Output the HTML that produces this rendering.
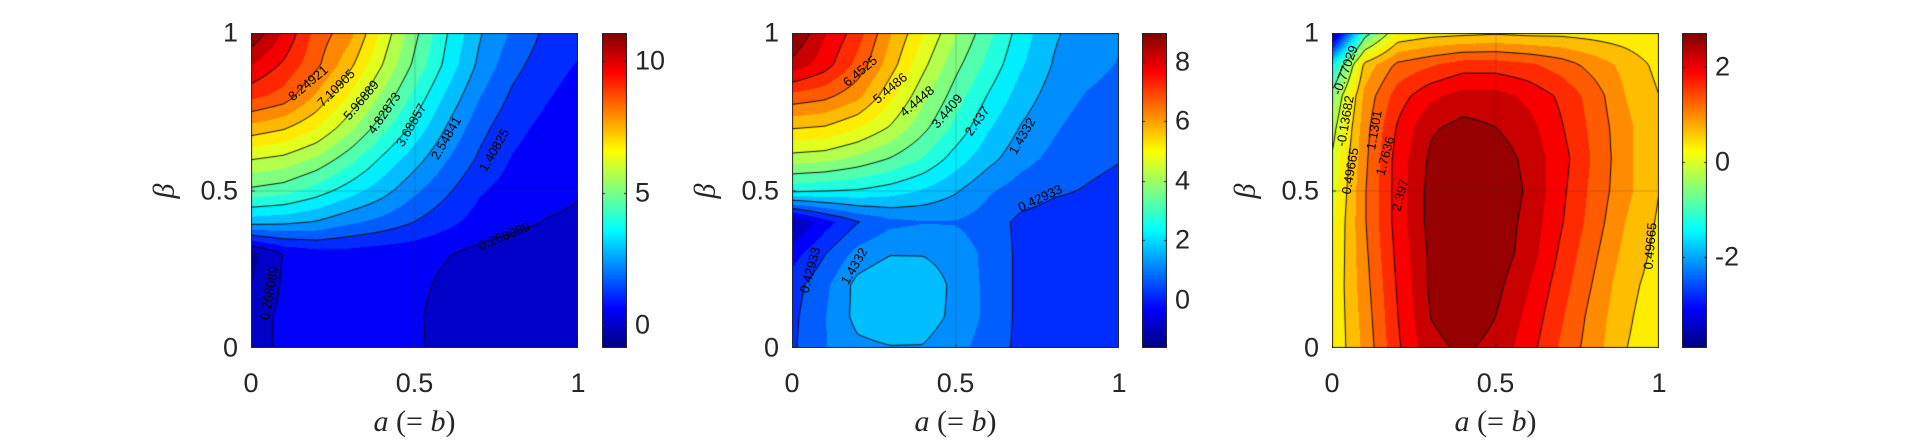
<!DOCTYPE html>
<html><head><meta charset="utf-8"><style>
body{margin:0;background:#fff;width:1924px;height:443px;overflow:hidden;position:relative;font-family:"Liberation Sans",sans-serif;color:#262626}
canvas{position:absolute}
.t{position:absolute;font-size:27px;line-height:1;white-space:nowrap}
.yl{text-align:right;width:60px;transform:translateY(-50%)}
.xl{transform:translateX(-50%)}
.cl{transform:translateY(-50%)}
.lab{position:absolute;font-family:"Liberation Serif",serif;font-style:italic;font-size:30px;white-space:nowrap}
.cont{position:absolute;font-size:13px;color:#000;white-space:nowrap;transform-origin:center center}
</style></head><body>
<div id="root"></div>
<script>
// grid axis values
const aVals=[0,0.1,0.2,0.3,0.4,0.5,0.6,0.7,0.8,0.9,1];
const betaVals=[1,0.9,0.8,0.7,0.6,0.5,0.4,0.3,0.2,0.1,0];
// panel 1 values (rows beta=1..0, cols a=0..1)
const z1=[
[11,9.9,8.6,7.9,6.4,5.0,3.7,2.6,1.9,1.3,1.0],
[10.0,9.3,8.4,7.3,6.0,4.7,3.5,2.4,1.6,1.1,0.8],
[9.0,8.6,7.6,6.5,5.3,4.1,3.0,2.0,1.3,0.9,0.6],
[7.5,7.2,6.6,5.6,4.5,3.5,2.5,1.6,1.0,0.7,0.5],
[6.0,5.8,5.3,4.5,3.6,2.8,2.0,1.3,0.8,0.55,0.4],
[4.7,4.5,4.0,3.4,2.8,2.1,1.5,0.9,0.6,0.4,0.3],
[2.8,2.7,2.5,2.1,1.8,1.4,1.0,0.6,0.4,0.25,0.2],
[-0.5,0.3,0.6,0.6,0.5,0.45,0.3,0.1,0.0,-0.05,-0.1],
[-0.3,0.35,0.6,0.65,0.55,0.4,0.15,-0.1,-0.2,-0.25,-0.25],
[0.0,0.4,0.6,0.6,0.5,0.35,0.05,-0.15,-0.25,-0.25,-0.25],
[0.1,0.35,0.5,0.5,0.45,0.35,0.1,-0.15,-0.25,-0.25,-0.25]];
const z2=[
[9.0,8.0,7.2,6.0,5.0,4.0,3.1,2.2,1.5,1.2,1.0],
[8.3,7.7,6.8,5.7,4.6,3.6,2.8,2.0,1.4,1.1,0.9],
[6.8,6.6,6.1,5.1,4.1,3.2,2.4,1.7,1.2,0.9,0.75],
[5.5,5.4,5.0,4.4,3.6,2.8,2.0,1.4,1.0,0.7,0.6],
[4.2,4.1,3.8,3.4,2.9,2.2,1.6,1.1,0.8,0.55,0.45],
[2.6,2.5,2.4,2.2,1.9,1.5,1.0,0.7,0.5,0.4,0.3],
[-1.2,-0.3,0.4,0.8,0.9,0.9,0.7,0.3,0.2,0.2,0.2],
[-0.3,0.4,1.1,1.4,1.4,1.2,0.8,0.3,0.2,0.2,0.2],
[0.2,0.8,1.6,1.9,1.8,1.3,0.8,0.3,0.2,0.2,0.2],
[0.3,0.9,1.6,1.8,1.7,1.3,0.8,0.3,0.2,0.2,0.2],
[0.35,0.9,1.3,1.4,1.4,1.1,0.7,0.3,0.2,0.2,0.2]];
const z3=[
[-3.9,-1.0,0.2,0.35,0.4,0.45,0.4,0.4,0.35,0.3,0.2],
[-1.5,0.6,1.2,1.4,1.6,1.6,1.5,1.3,1.0,0.7,0.4],
[-0.6,0.9,1.6,2.0,2.2,2.2,2.0,1.7,1.3,0.8,0.5],
[-0.3,1.0,1.8,2.35,2.5,2.4,2.2,1.8,1.35,0.9,0.5],
[-0.1,1.05,1.9,2.45,2.65,2.6,2.3,1.9,1.4,0.9,0.5],
[0.0,1.1,1.9,2.5,2.7,2.65,2.35,1.85,1.35,0.9,0.5],
[0.1,1.1,1.9,2.5,2.7,2.6,2.3,1.8,1.3,0.8,0.45],
[0.15,1.05,1.85,2.45,2.7,2.6,2.25,1.7,1.2,0.7,0.4],
[0.2,1.0,1.8,2.45,2.65,2.5,2.1,1.6,1.1,0.6,0.35],
[0.2,0.95,1.75,2.4,2.6,2.4,2.0,1.5,1.0,0.55,0.3],
[0.2,0.9,1.7,2.3,2.45,2.3,1.9,1.4,0.95,0.5,0.3]];
// contour levels (first level and step)
const lev1=[0.268089,1.14016];
const lev2=[0.42933,1.00387];
const lev3=[-0.77029,0.63347];
// colorbar ranges
const cr1=[-0.88,11.05], cr2=[-1.61,8.96], cr3=[-3.92,2.71];
const cbTicks1=[0,5,10], cbTicks2=[0,2,4,6,8], cbTicks3=[-2,0,2];
const cbLabels3=['-2','0','2'];
const xTicks=[0,0.5,1], xTickLabels=['0','0.5','1'];
const yTicks=[0,0.5,1], yTickLabels=['0','0.5','1'];
const contourLabels1=[['8.24921',57,50,-40],['7.10905',85,55,-45],['5.96889',110,67,-50],['4.82873',133,80,-55],['3.68857',160,92,-60],['2.54841',195,105,-60],['1.40825',243,117,-60],['0.268089',253,203,-22],['0.268089',18,260,-80]];
const contourLabels2=[['6.4525',68,38,-40],['5.4486',98,55,-40],['4.4448',125,68,-40],['3.4409',155,78,-50],['2.437',185,88,-55],['1.4332',230,103,-60],['0.42933',248,165,-25],['0.42933',18,237,-75],['1.4332',62,233,-60]];
const contourLabels3=[['-0.77029',13,37,-70],['-0.13682',13,88,-80],['0.49665',18,138,-80],['1.1301',42,97,-80],['1.7636',53,123,-75],['2.397',68,162,-75],['0.49665',318,213,-85]];

const W=327,H=315,TOP=33;
const root=document.getElementById('root');
function jet(t){t=Math.max(0,Math.min(1,t));const c=x=>Math.round(255*Math.max(0,Math.min(1,1.5-Math.abs(x))));return [c(4*t-3),c(4*t-2),c(4*t-1)];}
function interp(Z,a,b){const r=(1-b)*10,c=a*10;let i=Math.min(9,Math.floor(r)),j=Math.min(9,Math.floor(c));const fr=r-i,fc=c-j;
return Z[i][j]*(1-fr)*(1-fc)+Z[i][j+1]*(1-fr)*fc+Z[i+1][j]*fr*(1-fc)+Z[i+1][j+1]*fr*fc;}
function div(cls,txt,x,y,name){const d=document.createElement('div');d.className=cls;d.textContent=txt;d.style.left=x+'px';d.style.top=y+'px';


root.appendChild(d);return d;}

function panel(idx,left,cbLeft,Z,lev,cr,cbT,cbL,labs){
  const xS=a=>a*W, yS=b=>(1-b)*H;
  const cv=document.createElement('canvas');cv.width=W;cv.height=H;cv.style.left=left+'px';cv.style.top=TOP+'px';
  
  
  root.appendChild(cv);
  const ctx=cv.getContext('2d');const img=ctx.createImageData(W,H);
  const half=lev[1]/2;
  for(let py=0;py<H;py++)for(let px=0;px<W;px++){
    const a=(px+0.5)/W,b=1-(py+0.5)/H;const v=interp(Z,a,b);
    const k=Math.floor((v-lev[0])/half);const mid=lev[0]+(k+0.5)*half;
    const col=jet((mid-cr[0])/(cr[1]-cr[0]));const o=(py*W+px)*4;
    img.data[o]=col[0];img.data[o+1]=col[1];img.data[o+2]=col[2];img.data[o+3]=255;}
  ctx.putImageData(img,0,0);
  // grid lines
  ctx.strokeStyle='rgba(60,60,60,0.25)';ctx.lineWidth=1;ctx.beginPath();
  ctx.moveTo(xS(0.5)+0.5,0);ctx.lineTo(xS(0.5)+0.5,H);ctx.moveTo(0,yS(0.5)+0.5);ctx.lineTo(W,yS(0.5)+0.5);ctx.stroke();
  // contour lines via marching squares
  const S=3,nx=Math.ceil(W/S),ny=Math.ceil(H/S);const F=[];
  for(let j=0;j<=ny;j++){F.push([]);for(let i=0;i<=nx;i++){F[j].push(interp(Z,Math.min(1,i*S/W),Math.max(0,1-j*S/H)));}}
  ctx.strokeStyle='#000';ctx.lineWidth=0.9;ctx.beginPath();
  for(let L=lev[0];L<cr[1];L+=lev[1]){
    for(let j=0;j<ny;j++)for(let i=0;i<nx;i++){
      const v=[F[j][i],F[j][i+1],F[j+1][i+1],F[j+1][i]];
      const p=[[i,j],[i+1,j],[i+1,j+1],[i,j+1]];const pts=[];
      for(let e=0;e<4;e++){const a=v[e],b=v[(e+1)%4];if((a<L)!==(b<L)){const t=(L-a)/(b-a);const p1=p[e],p2=p[(e+1)%4];
        pts.push([(p1[0]+t*(p2[0]-p1[0]))*S,(p1[1]+t*(p2[1]-p1[1]))*S]);}}
      for(let k=0;k+1<pts.length;k+=2){ctx.moveTo(pts[k][0],pts[k][1]);ctx.lineTo(pts[k+1][0],pts[k+1][1]);}
    }}
  ctx.stroke();
  ctx.strokeStyle='#262626';ctx.lineWidth=1;ctx.strokeRect(0.5,0.5,W-1,H-1);
  ctx.beginPath();
  xTicks.forEach(t=>{ctx.moveTo(xS(t)+0.5,H);ctx.lineTo(xS(t)+0.5,H-4);});
  yTicks.forEach(t=>{ctx.moveTo(0,yS(t)+0.5);ctx.lineTo(4,yS(t)+0.5);});ctx.stroke();
  labs.forEach(l=>{const d=div('cont',l[0],left+l[1],TOP+l[2],'contour-label');d.style.transform='translate(-50%,-50%) rotate('+l[3]+'deg)';});
  xTicks.forEach((t,i)=>div('t xl',xTickLabels[i],left+xS(t),370,'x-tick-label'));
  yTicks.forEach((t,i)=>div('t yl',yTickLabels[i],left-73,TOP+yS(t),'y-tick-label'));
  const xl=div('lab','a (= b)',left+W/2,405,'x-axis-title');xl.style.transform='translateX(-50%)';
  xl.innerHTML='a <span style="font-style:normal">(=</span> b<span style="font-style:normal">)</span>';
  const yl=div('lab','β',left-94,TOP+H/2,'y-axis-title');yl.style.transform='translateY(-50%) rotate(-90deg)';
  // colorbar
  const cb=document.createElement('canvas');cb.width=25;cb.height=H;cb.style.left=cbLeft+'px';cb.style.top=TOP+'px';
  
  
  root.appendChild(cb);const c2=cb.getContext('2d');
  const cy=v=>(cr[1]-v)/(cr[1]-cr[0])*H;
  for(let y=0;y<H;y++){const col=jet(1-(y+0.5)/H);c2.fillStyle='rgb('+col+')';c2.fillRect(0,y,25,1);}
  c2.strokeStyle='#262626';c2.strokeRect(0.5,0.5,24,H-1);c2.beginPath();
  cbT.forEach(t=>{const y=Math.round(cy(t))+0.5;c2.moveTo(0,y);c2.lineTo(3,y);c2.moveTo(25,y);c2.lineTo(22,y);});c2.stroke();
  cbT.forEach((t,i)=>div('t cl',cbL?cbL[i]:String(t),cbLeft+33,TOP+cy(t),'colorbar-tick-label'));
}
panel(1,251,602,z1,lev1,cr1,cbTicks1,null,contourLabels1);
panel(2,792,1142,z2,lev2,cr2,cbTicks2,null,contourLabels2);
panel(3,1332,1682,z3,lev3,cr3,cbTicks3,cbLabels3,contourLabels3);
</script>
</body></html>
